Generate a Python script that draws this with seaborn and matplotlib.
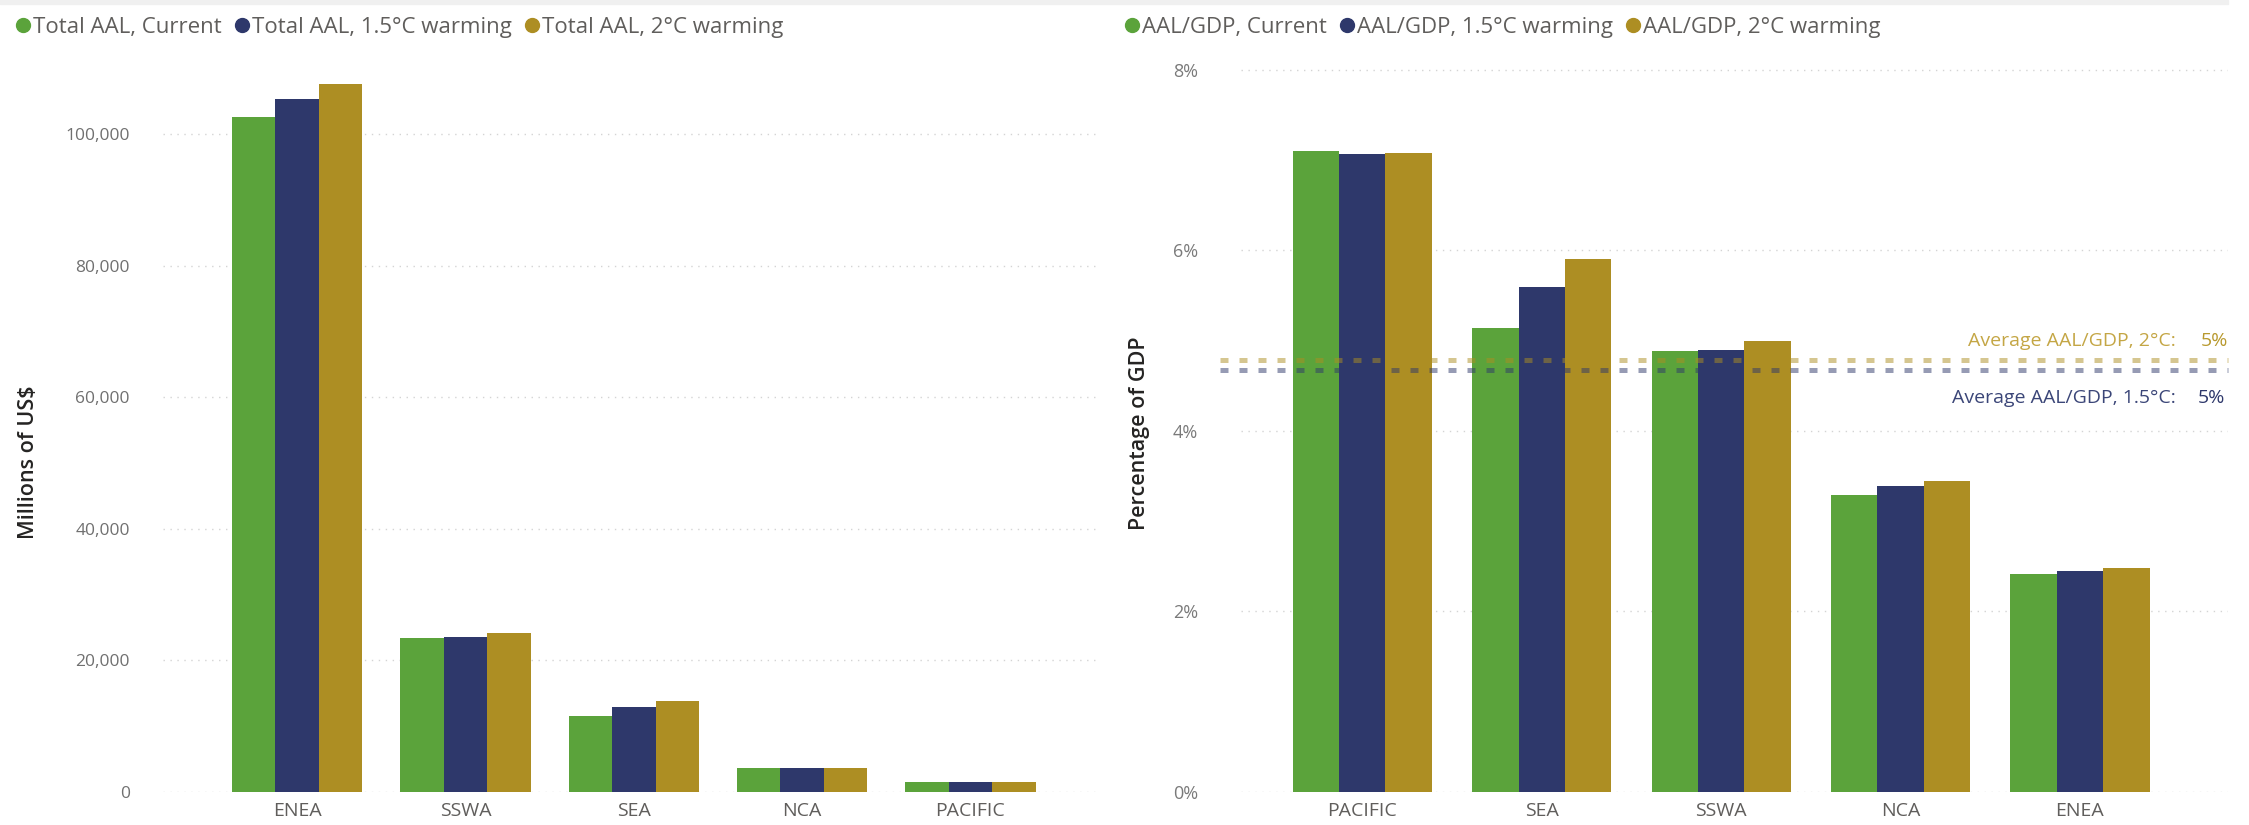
import matplotlib
matplotlib.use("Agg")
import matplotlib.pyplot as plt
from matplotlib.lines import Line2D
from matplotlib.patches import Rectangle
from matplotlib.ticker import FuncFormatter
import numpy as np
import pandas as pd
import seaborn as sns

# ---- data -------------------------------------------------------------
scenarios = ["Current", "1.5°C warming", "2°C warming"]

regions_total = ["ENEA", "SSWA", "SEA", "NCA", "PACIFIC"]
aal_current = [102600, 23400, 11600, 3700, 1550]
aal_15c = [105400, 23600, 12900, 3700, 1550]
aal_2c = [107600, 24200, 13800, 3700, 1550]

regions_gdp = ["PACIFIC", "SEA", "SSWA", "NCA", "ENEA"]
gdp_current = [7.10, 5.14, 4.89, 3.29, 2.42]
gdp_15c = [7.07, 5.59, 4.90, 3.39, 2.45]
gdp_2c = [7.08, 5.90, 5.00, 3.45, 2.48]

total_ticks = [0, 20000, 40000, 60000, 80000, 100000]
gdp_ticks = [0, 2, 4, 6, 8]

GREEN, NAVY, GOLD = "#5BA33B", "#2E386B", "#AD8E23"
palette = [GREEN, NAVY, GOLD]

# ---- long tables -------------------------------------------------------
def long_table(regions, series, prefix):
    rows = []
    for name, vals in zip(scenarios, series):
        for r, v in zip(regions, vals):
            rows.append({"region": r, "series": f"{prefix}, {name}", "value": v})
    return pd.DataFrame(rows)

df_total = long_table(regions_total, [aal_current, aal_15c, aal_2c], "Total AAL")
df_gdp = long_table(regions_gdp, [gdp_current, gdp_15c, gdp_2c], "AAL/GDP")

sns.set_theme(style="white")
plt.rcParams["font.family"] = ["Open Sans", "DejaVu Sans"]
NARROW = ["Liberation Sans Narrow", "Open Sans", "DejaVu Sans"]

W, H = 2249, 825
fig = plt.figure(figsize=(W / 100, H / 100), dpi=100)

# thin panel border along the top
fig.patches.append(Rectangle((0, 1 - 4 / H), 2228 / W, 4 / H, transform=fig.transFigure,
                             color="#f0f0f0", zorder=0))

ax_bottom = (H - 792) / H
ax_height = 732 / H
ax1 = fig.add_axes([163 / W, ax_bottom, (1100 - 163) / W, ax_height])
ax2 = fig.add_axes([1241 / W, ax_bottom, (2228 - 1241) / W, ax_height])

for ax, df, order, hue_order in [
    (ax1, df_total, regions_total, [f"Total AAL, {s}" for s in scenarios]),
    (ax2, df_gdp, regions_gdp, [f"AAL/GDP, {s}" for s in scenarios]),
]:
    sns.barplot(data=df, x="region", y="value", hue="series", order=order,
                hue_order=hue_order, palette=palette, saturation=1, width=0.775,
                edgecolor="none", linewidth=0, ax=ax, legend=False, zorder=3)
    ax.set_xlabel("")
    ax.set_ylabel("")
    for s in ax.spines.values():
        s.set_visible(False)
    ax.grid(axis="y", color="#d4d4d4", linestyle=(0, (1, 4)), linewidth=1.0, zorder=0)
    ax.grid(axis="x", visible=False)
    ax.tick_params(axis="both", length=0)
    for lbl in ax.get_xticklabels():
        lbl.set_family(NARROW)
        lbl.set_fontsize(14)
        lbl.set_color("#605E5C")

# left axes: totals
ax1.set_xlim(-0.797, 4.77)
ax1.set_ylim(0, 111300)
ax1.set_yticks(total_ticks)
ax1.yaxis.set_major_formatter(FuncFormatter(lambda v, p: f"{v:,.0f}"))
ax1.tick_params(axis="y", pad=24, labelsize=12.5, labelcolor="#707070")
ax1.tick_params(axis="x", pad=7)

# right axes: share of GDP
ax2.set_xlim(-0.676, 4.825)
ax2.set_ylim(0, 8.11)
ax2.set_yticks(gdp_ticks)
ax2.yaxis.set_major_formatter(FuncFormatter(lambda v, p: f"{v:.0f}%"))
ax2.tick_params(axis="y", pad=31, labelsize=13, labelcolor="#7A7A7A")
ax2.tick_params(axis="x", pad=7)

# axis titles
fig.text(29 / W, 1 - 462 / H, "Millions of US$", rotation=90, ha="center", va="center",
         family=NARROW, fontsize=15.5, color="#252423", fontweight="semibold")
fig.text(1140 / W, 1 - 433 / H, "Percentage of GDP", rotation=90, ha="center", va="center",
         family=NARROW, fontsize=15.5, color="#252423", fontweight="semibold")

# average reference lines
avg_2c = float(np.mean(gdp_2c))
avg_15c = float(np.mean(gdp_15c))
ax2.axhline(avg_2c, xmin=-0.021, xmax=1.0, color=GOLD, alpha=0.5, linewidth=3.6,
            linestyle=(0, (1.6, 2.2)), clip_on=False, zorder=4)
ax2.axhline(avg_15c, xmin=-0.021, xmax=1.0, color=NAVY, alpha=0.5, linewidth=3.6,
            linestyle=(0, (1.6, 2.2)), clip_on=False, zorder=4)

trans = ax2.get_yaxis_transform()
ax2.text(0.947, avg_2c + 0.22, "Average AAL/GDP, 2°C:", transform=trans, ha="right",
         va="center", fontsize=14, color="#C4A645")
ax2.text(1.0, avg_2c + 0.22, f"{avg_2c:.0f}%", transform=trans, ha="right",
         va="center", fontsize=14, color="#B8992E")
ax2.text(0.947, avg_15c - 0.32, "Average AAL/GDP, 1.5°C:", transform=trans, ha="right",
         va="center", fontsize=14, color="#3B4678")
ax2.text(0.997, avg_15c - 0.32, f"{avg_15c:.0f}%", transform=trans, ha="right",
         va="center", fontsize=14, color="#2E386B")

# legends
def legend_handles(color_list):
    return [Line2D([0], [0], marker="o", linestyle="none", markersize=10,
                   markerfacecolor=c, markeredgecolor=c) for c in color_list]

leg_kw = dict(frameon=False, ncol=3, handletextpad=0.05, columnspacing=0.5,
              borderpad=0, borderaxespad=0, handlelength=0.8, loc="center left",
              prop={"family": NARROW, "size": 16}, labelcolor="#605E5C")
fig.legend(legend_handles(palette), [f"Total AAL, {s}" for s in scenarios],
           bbox_to_anchor=(14 / W, 1 - 27 / H), **leg_kw)
fig.legend(legend_handles(palette), [f"AAL/GDP, {s}" for s in scenarios],
           bbox_to_anchor=(1123 / W, 1 - 27 / H), **leg_kw)

fig.savefig("out.png", dpi=100, facecolor="white")
